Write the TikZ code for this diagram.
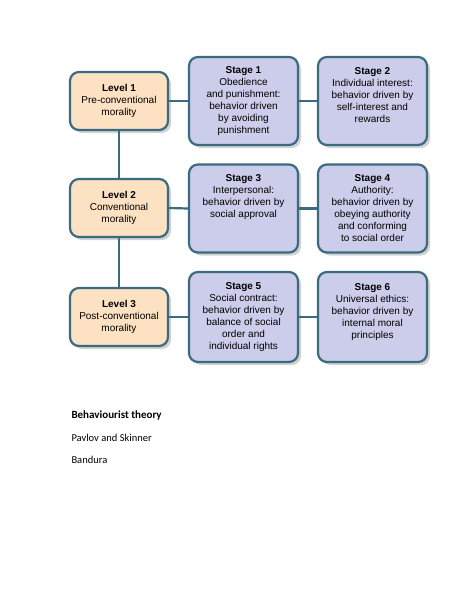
\documentclass[tikz,border=0pt]{standalone}
\usepackage{fontspec}
\setmainfont{Liberation Sans}
\newfontfamily\bodyfont{Carlito}
\usetikzlibrary{shadows}
\definecolor{edgeblue}{HTML}{3A6B7E}
\definecolor{levelfill}{HTML}{FCE1C2}
\definecolor{stagefill}{HTML}{CBCDEA}
\tikzset{
	box/.style = {draw = edgeblue, line width = 2.2pt, rounded corners = 9pt,
		align = center, inner sep = 2pt, font = \fontsize{10}{12}\selectfont,
		drop shadow = {shadow xshift = 3pt, shadow yshift = -3pt, opacity = 0.35}},
	levelbox/.style = {box, fill = levelfill, minimum width = 98pt, minimum height = 58pt},
	stagebox/.style = {box, fill = stagefill, minimum width = 109pt, minimum height = 88pt},
	link/.style = {draw = edgeblue, line width = 2.2pt}
}
\begin{document}
\begin{tikzpicture}[x = 1pt, y = -1pt]
		\useasboundingbox[fill = white] (0,0) rectangle (474,613);
		
		% levels
		\node[levelbox] (lev1) at (119,101) {\textbf{Level 1}\\Pre-conventional\\morality};
		\node[levelbox] (lev2) at (119,208) {\textbf{Level 2}\\Conventional\\morality};
		\node[levelbox] (lev3) at (119,317) {\textbf{Level 3}\\Post-conventional\\morality};
		
		% stages
		\node[stagebox] (st1) at (243.5,101) {\textbf{Stage 1}\\Obedience\\and punishment:\\behavior driven\\by avoiding\\punishment};
		\node[stagebox] (st2) at (372.5,101) {\textbf{Stage 2}\\Individual interest:\\behavior driven by\\self-interest and\\rewards\\\mbox{}};
		\node[stagebox] (st3) at (243.5,208.5) {\textbf{Stage 3}\\Interpersonal:\\behavior driven by\\social approval\\\mbox{}\\\mbox{}};
		\node[stagebox] (st4) at (372.5,208.5) {\textbf{Stage 4}\\Authority:\\behavior driven by\\obeying authority\\and conforming\\to social order};
		\node[stagebox, minimum height = 90pt] (st5) at (243.5,317) {\textbf{Stage 5}\\Social contract:\\behavior driven by\\balance of social\\order and\\individual rights};
		\node[stagebox, minimum height = 90pt] (st6) at (372.5,317) {\textbf{Stage 6}\\Universal ethics:\\behavior driven by\\internal moral\\principles\\\mbox{}};
		
		% connectors
		\draw[link] (lev1.south) -- (lev2.north);
		\draw[link] (lev2.south) -- (lev3.north);
		\draw[link] (lev1.east) -- (st1.west);
		\draw[link] (st1.east) -- (st2.west);
		\draw[link] (lev2.east) -- (st3.west);
		\draw[link] (st3.east) -- (st4.west);
		\draw[link] (lev3.east) -- (st5.west);
		\draw[link] (st5.east) -- (st6.west);
		
		% text below
		\node[anchor = west, font = \bodyfont\fontsize{11}{13}\selectfont\bfseries] (head) at (68,416) {Behaviourist theory};
		\node[anchor = west, font = \bodyfont\fontsize{10.5}{13}\selectfont] (pav) at (68,438) {Pavlov and Skinner};
		\node[anchor = west, font = \bodyfont\fontsize{10.5}{13}\selectfont] (band) at (68,460) {Bandura};
	\end{tikzpicture}
\end{document}
